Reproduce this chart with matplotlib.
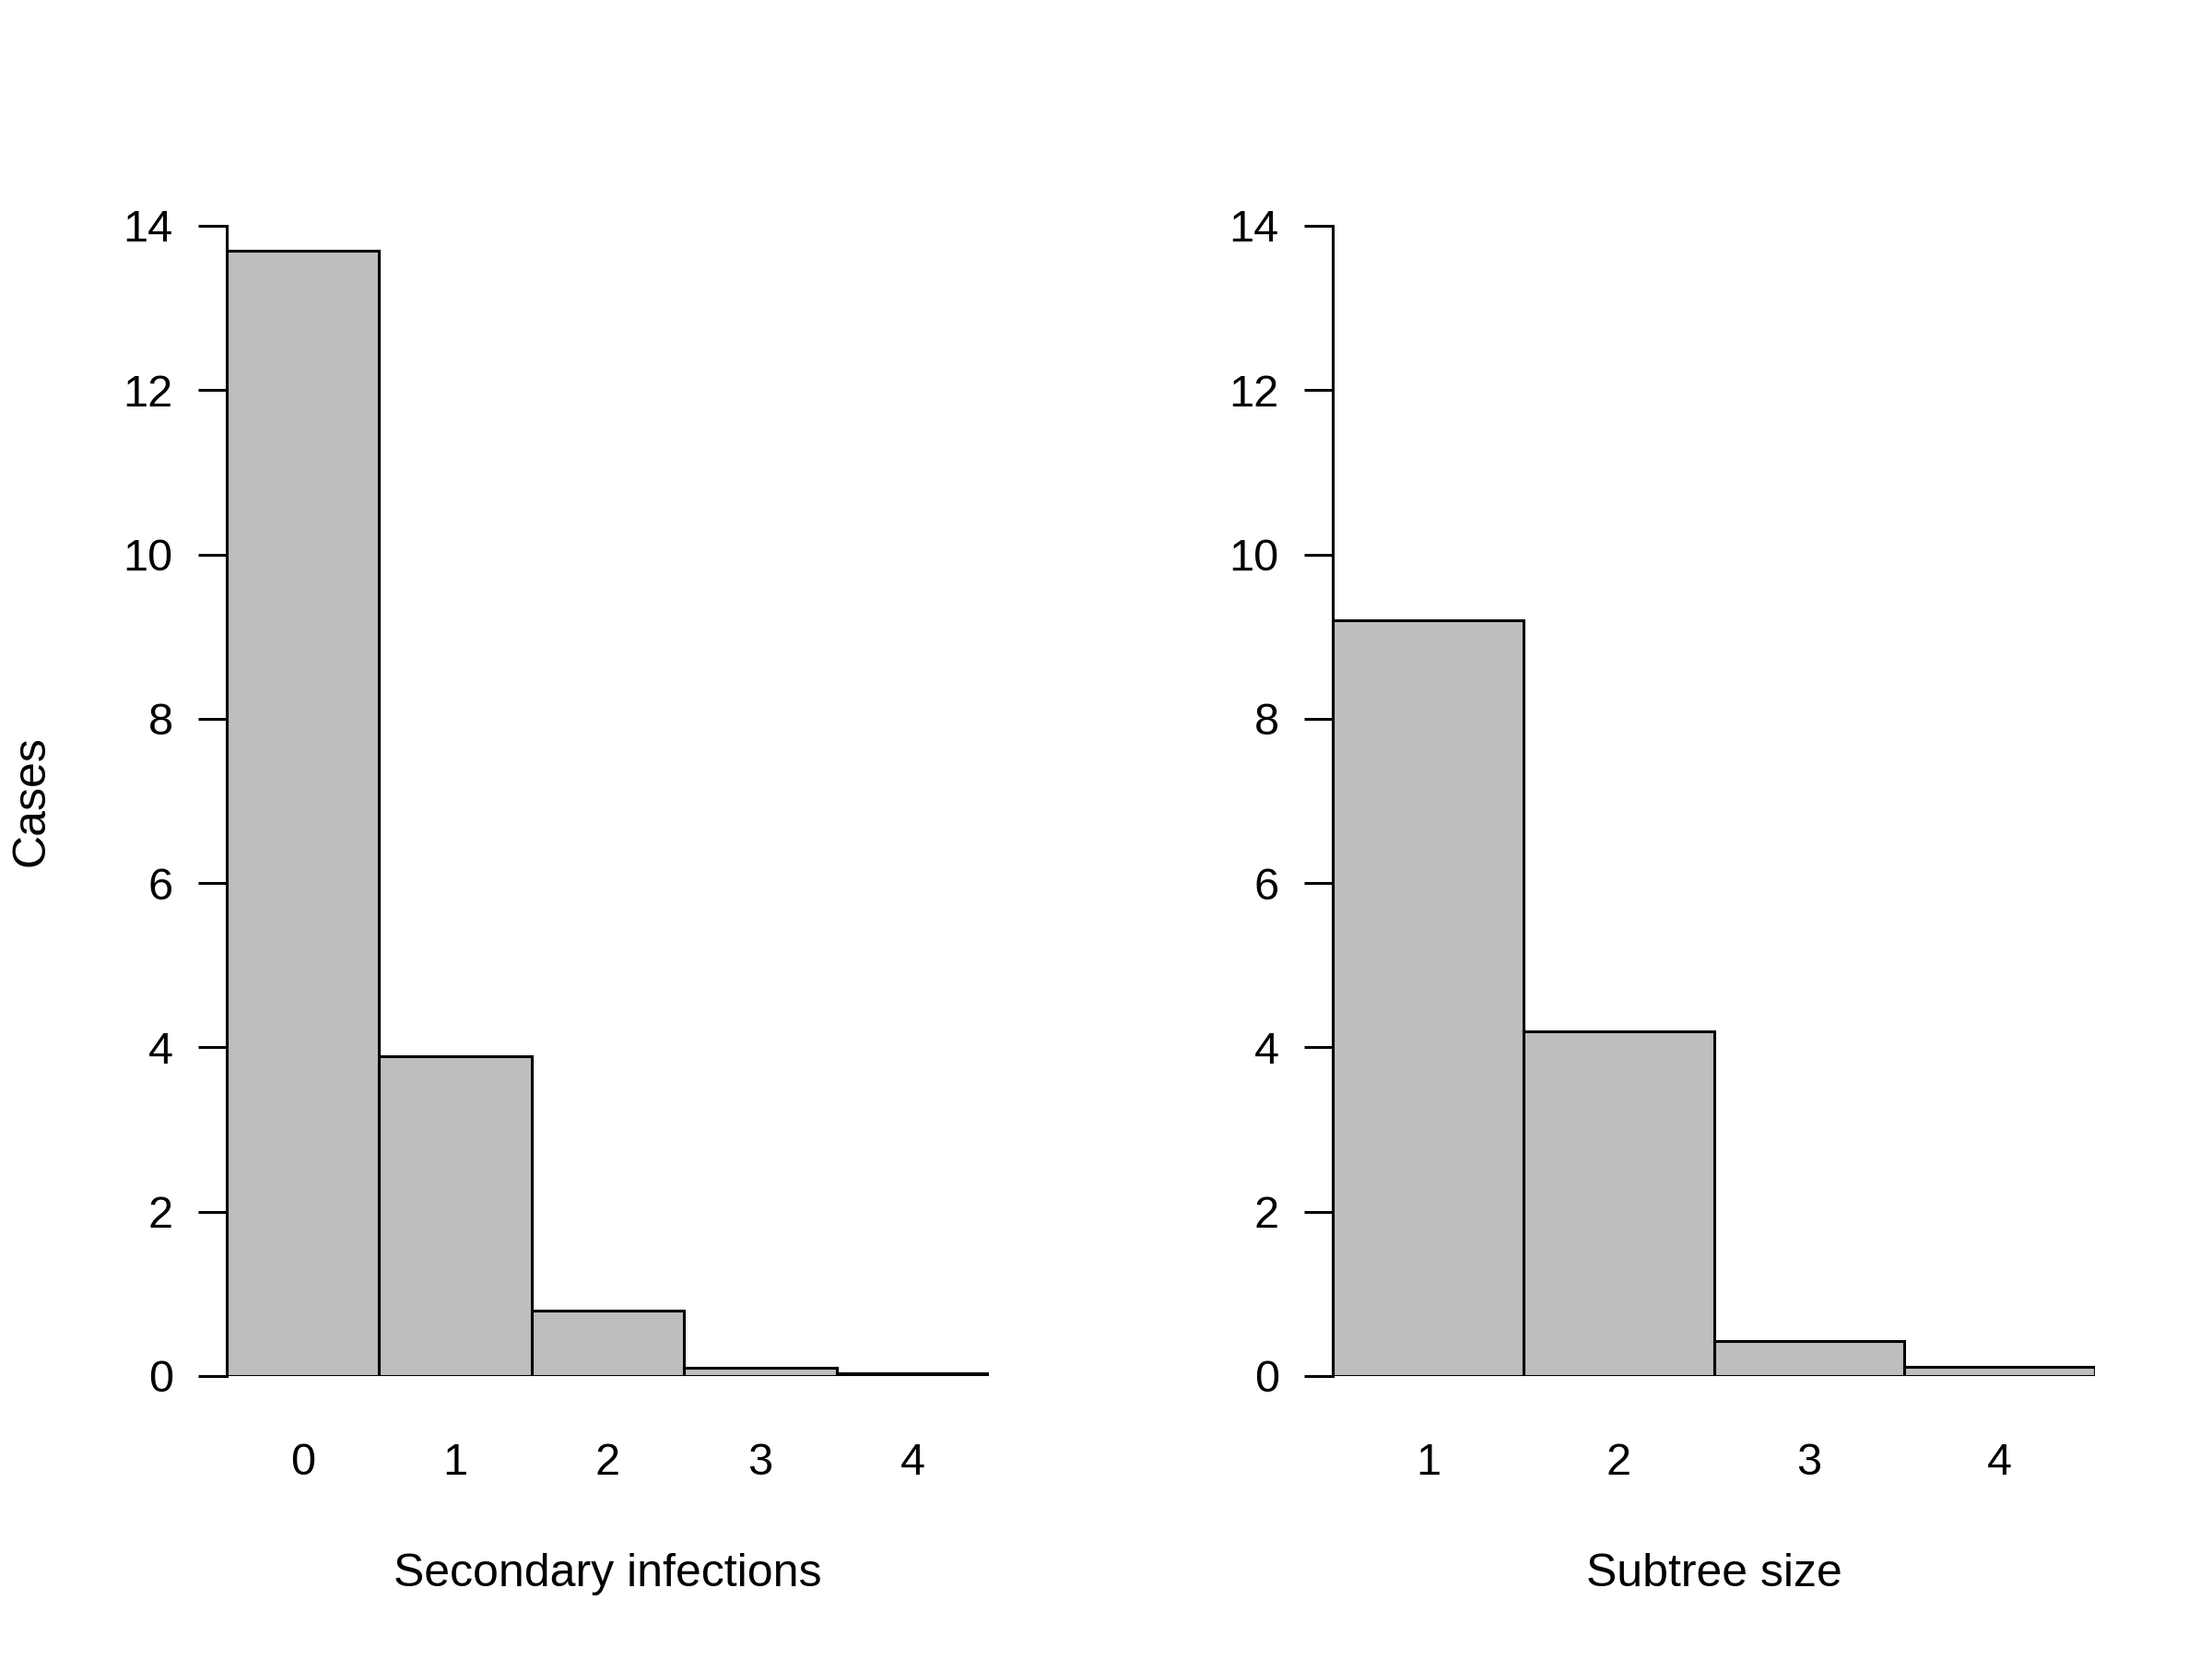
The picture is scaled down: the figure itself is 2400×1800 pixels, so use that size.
import matplotlib.pyplot as plt
import numpy as np

secondary_labels = ["0", "1", "2", "3", "4"]
secondary_cases = [13.7, 3.89, 0.8, 0.1, 0.03]

subtree_labels = ["1", "2", "3", "4"]
subtree_cases = [9.2, 4.2, 0.42, 0.11]

y_ticks = [0, 2, 4, 6, 8, 10, 12, 14]

plt.rcParams['font.family'] = ['Liberation Sans', 'DejaVu Sans']
plt.rcParams['font.size'] = 17.5

fig = plt.figure(figsize=(12, 9), dpi=200)
ax1 = fig.add_axes([0.1025, 0.1706, 0.3446, 0.6933])
ax2 = fig.add_axes([0.6025, 0.1706, 0.3446, 0.6933])


def draw_panel(ax, labels, values, xlabel):
    pos = np.arange(len(values))
    ax.bar(pos, values, width=1.0, align='edge', color='#bebebe',
           edgecolor='black', linewidth=1.1)
    ax.set_xlim(0, len(values))
    ax.set_ylim(0, 14)
    ax.set_xticks(pos + 0.5, labels)
    ax.set_yticks(y_ticks)
    for s in ['top', 'right', 'bottom']:
        ax.spines[s].set_visible(False)
    ax.spines['left'].set_linewidth(1.1)
    ax.spines['left'].set_bounds(0, 14)
    ax.tick_params(axis='x', length=0, pad=26)
    ax.tick_params(axis='y', length=11, width=1.1, pad=10)
    ax.set_xlabel(xlabel, labelpad=27, fontsize=18)


draw_panel(ax1, secondary_labels, secondary_cases, "Secondary infections")
draw_panel(ax2, subtree_labels, subtree_cases, "Subtree size")
ax1.set_ylabel("Cases", fontsize=18)
ax1.yaxis.set_label_coords(-0.228, 0.5)

fig.savefig("out.png", dpi=200)
plt.close(fig)
